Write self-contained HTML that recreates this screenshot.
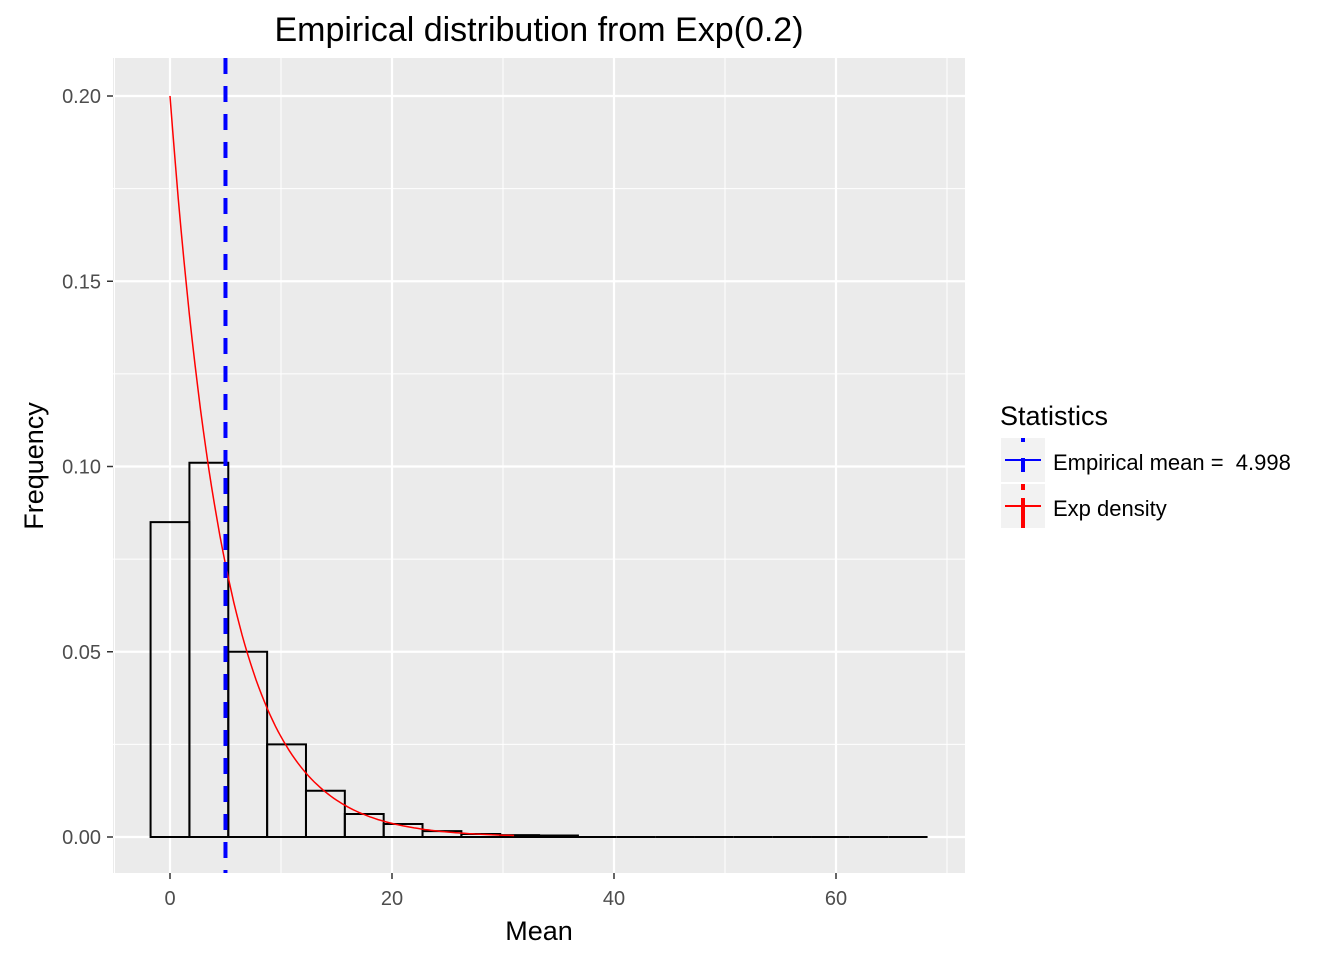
<!DOCTYPE html>
<html><head><meta charset="utf-8"><style>
body{margin:0;background:#fff;font-family:"Liberation Sans",sans-serif}
svg text{font-family:"Liberation Sans",sans-serif}
</style></head><body>
<svg id="c" width="1344" height="960" xmlns="http://www.w3.org/2000/svg">
<rect x="113" y="58" width="852" height="815" fill="#ebebeb"/>
<g id="grid"></g>
<g id="bars"></g>
<g id="marks"></g>
<g id="axes"></g>
<text x="539" y="41" font-size="34" text-anchor="middle">Empirical distribution from Exp(0.2)</text>
<text x="539" y="940" font-size="27" text-anchor="middle">Mean</text>
<text transform="translate(43,466) rotate(-90)" font-size="27" text-anchor="middle">Frequency</text>
<g>
<text x="1000" y="425" font-size="27">Statistics</text>
<g>
<rect x="1001" y="438" width="44" height="44" fill="#f2f2f2"/>
<line x1="1005" y1="460" x2="1041" y2="460" stroke="#0000ff" stroke-width="2"/>
<line x1="1023" y1="438" x2="1023" y2="482" stroke="#0000ff" stroke-width="4" stroke-dasharray="4 16 14 20"/>
<text x="1053" y="470" font-size="22">Empirical mean =&#160; 4.998</text>
</g>
<g>
<rect x="1001" y="484" width="44" height="44" fill="#f2f2f2"/>
<line x1="1005" y1="506" x2="1041" y2="506" stroke="#ff0000" stroke-width="2"/>
<line x1="1023" y1="484" x2="1023" y2="528" stroke="#ff0000" stroke-width="4" stroke-dasharray="6 8 30 0"/>
<text x="1053" y="516" font-size="22">Exp density</text>
</g>
</g>
</svg>
<script>
const binStart=-1.75, binWidth=3.5;
const binHeights=[0.085,0.101,0.050,0.025,0.0125,0.0062,0.0035,0.0016,0.0008,0.0005,0.0004,0,0,0,0,0,0,0,0,0];
const xTicks=[0,20,40,60];
const yTicks=[0,0.05,0.10,0.15,0.20];
const yTickLabels=["0.00","0.05","0.10","0.15","0.20"];
const meanValue=4.998;
const rate=0.2;
const curveMax=31;
const NS="http://www.w3.org/2000/svg";
function X(v){return 170+v*11.1;}
function Y(v){return 837-v*3705;}
function mk(t,a,p){const e=document.createElementNS(NS,t);for(const k in a)e.setAttribute(k,a[k]);p.appendChild(e);return e;}
const grid=document.getElementById('grid'),bars=document.getElementById('bars'),marks=document.getElementById('marks'),axes=document.getElementById('axes');
for(let i=0;i<xTicks.length;i++){
 const t=xTicks[i];
 const g=mk('line',{x1:X(t),x2:X(t),y1:58,y2:873,stroke:'#fff','stroke-width':2.2},grid);
 
 
 if(i<xTicks.length-1){const m=(t+xTicks[i+1])/2;mk('line',{x1:X(m),x2:X(m),y1:58,y2:873,stroke:'#fff','stroke-width':1},grid);}
 mk('line',{x1:X(t),x2:X(t),y1:873,y2:879,stroke:'#333','stroke-width':1.5},axes);
 const tx=mk('text',{x:X(t),y:905,'font-size':20,'text-anchor':'middle',fill:'#4d4d4d'},axes);tx.textContent=t;
 
 
}
mk('line',{x1:X(-5),x2:X(-5),y1:58,y2:873,stroke:'#fff','stroke-width':1},grid);
mk('line',{x1:X(70),x2:X(70),y1:58,y2:873,stroke:'#fff','stroke-width':1},grid);
for(let i=0;i<yTicks.length;i++){
 const t=yTicks[i];
 const g=mk('line',{x1:113,x2:965,y1:Y(t),y2:Y(t),stroke:'#fff','stroke-width':2.2},grid);
 
 
 if(i<yTicks.length-1){const m=(t+yTicks[i+1])/2;mk('line',{x1:113,x2:965,y1:Y(m),y2:Y(m),stroke:'#fff','stroke-width':1},grid);}
 mk('line',{x1:107,x2:113,y1:Y(t),y2:Y(t),stroke:'#333','stroke-width':1.5},axes);
 const tx=mk('text',{x:101,y:Y(t)+7,'font-size':20,'text-anchor':'end',fill:'#4d4d4d'},axes);tx.textContent=yTickLabels[i];
 
 
}
binHeights.forEach((h,i)=>{
 const x0=X(binStart+i*binWidth),x1=X(binStart+(i+1)*binWidth);
 const r=mk('path',{d:`M${x0},${Y(0)}V${Y(h)}H${x1}V${Y(0)}Z`,fill:'none',stroke:'#000','stroke-width':2},bars);
 
 
});
let d='';
for(let v=0;v<=curveMax;v+=0.25){d+=(v?'L':'M')+X(v).toFixed(1)+','+Y(rate*Math.exp(-rate*v)).toFixed(1);}
const p=mk('path',{d:d,fill:'none',stroke:'#ff0000','stroke-width':1.5},marks);


const ml=mk('line',{x1:X(meanValue),x2:X(meanValue),y1:58,y2:873,stroke:'#0000ff','stroke-width':4,'stroke-dasharray':'16 12'},marks);


</script>
</body></html>
